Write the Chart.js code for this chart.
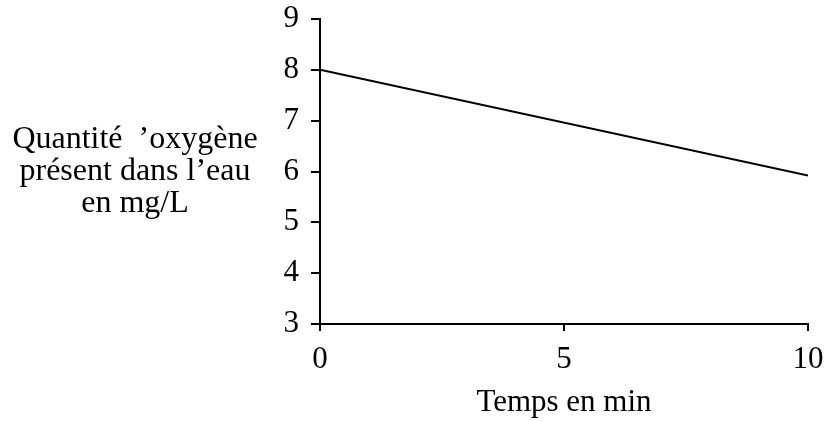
<!DOCTYPE html>
<html>
<head>
<meta charset="utf-8">
<script src="https://cdn.jsdelivr.net/npm/chart.js@4/dist/chart.umd.min.js"></script>
<style>
  html, body { margin: 0; padding: 0; background: #fff; }
  #wrap { width: 836px; height: 421px; position: relative; }
</style>
</head>
<body>
<div id="wrap"><canvas id="oxygenChart"></canvas></div>
<script>
// Data
const timeMin = [0, 10];
const oxygenMgL = [8, 5.92];
const yTitleLines = ['Quantité  \u2019oxygène', 'présent dans l\u2019eau', 'en mg/L'];
const xTitle = 'Temps en min';

const serif = '"Liberation Serif", "Times New Roman", serif';

// Horizontal y-axis title drawn at the left of the chart
const sideTitle = {
    id: 'sideTitle',
    afterDraw(chart) {
        const ctx = chart.ctx;
        ctx.save();
        ctx.fillStyle = '#000';
        ctx.font = '32px ' + serif;
        ctx.textAlign = 'center';
        ctx.textBaseline = 'alphabetic';
        yTitleLines.forEach((line, i) => {
            ctx.fillText(line, 135, 148 + i * 32);
        });
        ctx.restore();
    }
};

const ctx = document.getElementById('oxygenChart').getContext('2d');
new Chart(ctx, {
    type: 'line',
    data: {
        datasets: [{
            data: timeMin.map((t, i) => ({ x: t, y: oxygenMgL[i] })),
            borderColor: '#000',
            borderWidth: 2,
            pointRadius: 0,
            tension: 0
        }]
    },
    options: {
        responsive: true,
        maintainAspectRatio: false,
        animation: false,
        layout: { padding: { top: 19, right: 28, left: 0, bottom: 0 } },
        plugins: {
            legend: { display: false },
            tooltip: { enabled: false }
        },
        scales: {
            x: {
                type: 'linear',
                min: 0,
                max: 10,
                ticks: {
                    stepSize: 5,
                    color: '#000',
                    font: { family: serif, size: 31 },
                    padding: 10,
                    maxRotation: 0
                },
                grid: { drawOnChartArea: false, color: '#000', tickLength: 7, lineWidth: 2 },
                border: { color: '#000', width: 2 },
                title: {
                    display: true,
                    text: xTitle,
                    color: '#000',
                    font: { family: serif, size: 31 },
                    padding: { top: 4, bottom: 0 }
                },
                afterFit(scale) {
                    scale.height = 97;
                    scale.paddingLeft = 0;
                    scale.paddingRight = 0;
                }
            },
            y: {
                min: 3,
                max: 9,
                ticks: {
                    stepSize: 1,
                    color: '#000',
                    font: { family: serif, size: 31 },
                    padding: 12
                },
                grid: { drawOnChartArea: false, color: '#000', tickLength: 9, lineWidth: 2 },
                border: { color: '#000', width: 2 },
                afterFit(scale) {
                    scale.width = 320;
                    scale.paddingTop = 0;
                    scale.paddingBottom = 0;
                }
            }
        }
    },
    plugins: [sideTitle]
});
</script>
</body>
</html>
